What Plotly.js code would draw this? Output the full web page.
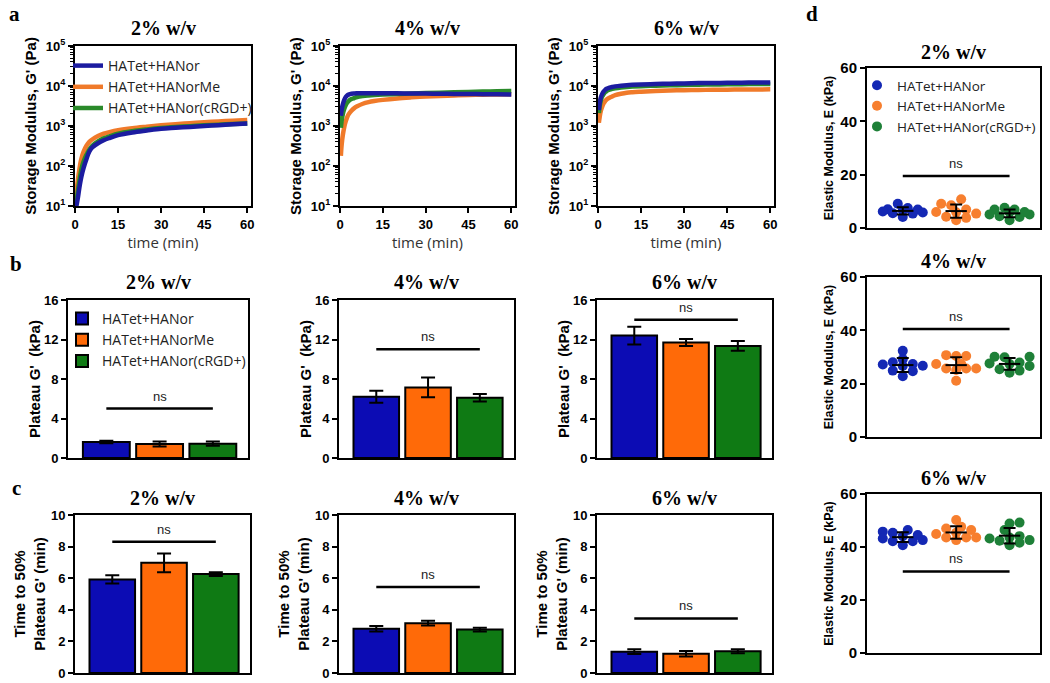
<!DOCTYPE html>
<html><head><meta charset="utf-8">
<script src="https://cdn.plot.ly/plotly-3.0.1.min.js"></script>
<style>html,body{margin:0;padding:0;background:#fff}#chart{width:1050px;height:683px}</style>
</head><body><div id="chart"></div>
<script>
// ---------- DATA ----------
const concLabels = ['2% w/v', '4% w/v', '6% w/v'];
const groups = ['HATet+HANor', 'HATet+HANorMe', 'HATet+HANor(cRGD+)'];

// (a) storage modulus G' (Pa) vs time (min)
const timeMin = [0.3, 0.6, 1, 1.5, 2, 2.5, 3, 4, 5, 6, 8, 10, 12, 15, 20, 25, 30, 35, 40, 45, 50, 55, 60];
const g2Nor   = [9, 11, 16, 28, 45, 66, 90, 150, 230, 290, 370, 440, 500, 590, 690, 770, 850, 900, 950, 1000, 1050, 1100, 1150];
const g2NorMe = [14, 25, 45, 80, 130, 180, 230, 320, 400, 460, 560, 640, 700, 780, 880, 960, 1040, 1110, 1180, 1240, 1300, 1360, 1420];
const g2RGD   = [10, 14, 24, 42, 68, 100, 130, 190, 260, 320, 410, 490, 550, 640, 740, 820, 890, 940, 990, 1040, 1080, 1120, 1160];
const g4Nor   = [1800, 2600, 3500, 4500, 5300, 5800, 6100, 6400, 6500, 6550, 6600, 6600, 6600, 6600, 6550, 6500, 6450, 6400, 6350, 6300, 6250, 6200, 6150];
const g4NorMe = [180, 350, 600, 950, 1300, 1650, 1950, 2400, 2800, 3100, 3600, 3950, 4200, 4500, 4900, 5200, 5450, 5650, 5800, 5950, 6050, 6150, 6250];
const g4RGD   = [900, 1400, 2000, 2700, 3300, 3800, 4200, 4700, 5000, 5300, 5600, 5800, 5950, 6100, 6300, 6500, 6650, 6800, 6950, 7100, 7250, 7400, 7500];
const g6Nor   = [2500, 3800, 5200, 6400, 7300, 8000, 8500, 9100, 9500, 9800, 10200, 10500, 10700, 10900, 11200, 11400, 11600, 11800, 11900, 12000, 12100, 12200, 12300];
const g6NorMe = [1200, 1700, 2400, 3100, 3700, 4200, 4600, 5100, 5500, 5900, 6400, 6800, 7000, 7200, 7500, 7700, 7850, 7950, 8050, 8100, 8150, 8200, 8250];
const g6RGD   = [2100, 3200, 4400, 5500, 6300, 7000, 7500, 8100, 8500, 8800, 9200, 9500, 9700, 9900, 10200, 10400, 10600, 10750, 10900, 11000, 11100, 11200, 11300];
const logTickVals = [10, 100, 1000, 10000, 100000];
const logTickText = ['10<sup>1</sup>', '10<sup>2</sup>', '10<sup>3</sup>', '10<sup>4</sup>', '10<sup>5</sup>'];

// (b) plateau G' (kPa): mean, SD
const plateau2Mean = [1.62, 1.42, 1.45], plateau2SD = [0.12, 0.25, 0.22];
const plateau4Mean = [6.2, 7.15, 6.1],   plateau4SD = [0.6, 1.0, 0.38];
const plateau6Mean = [12.4, 11.7, 11.35], plateau6SD = [0.9, 0.35, 0.5];
const plateauNs = [5, 11, 14];

// (c) time to 50% plateau G' (min): mean, SD
const t50_2Mean = [5.92, 6.97, 6.26], t50_2SD = [0.26, 0.6, 0.12];
const t50_4Mean = [2.8, 3.15, 2.75],  t50_4SD = [0.17, 0.15, 0.12];
const t50_6Mean = [1.35, 1.22, 1.38], t50_6SD = [0.15, 0.17, 0.13];
const t50Ns = [8.3, 5.45, 3.45];

// (d) elastic modulus E (kPa), individual measurements
const e2Nor   = [9.1, 5.4, 6.9, 6.6, 7.0, 4.1, 7.5, 5.5, 5.8, 6.2];
const e2NorMe = [10.8, 8.5, 6.9, 3.8, 5.4, 9.1, 5.9, 2.9, 4.2, 6.0];
const e2RGD   = [6.9, 5.1, 4.1, 6.9, 2.9, 5.9, 5.1, 7.6, 4.4, 6.0];
const e4Nor   = [32.3, 26.6, 28.0, 22.8, 27.4, 24.7, 26.7, 29.2, 24.9, 27.2];
const e4NorMe = [30.7, 27.4, 30.4, 25.1, 25.7, 30.4, 25.7, 25.7, 21.1, 27.4];
const e4RGD   = [27.6, 30.1, 24.1, 30.1, 26.6, 25.4, 29.9, 27.4, 24.9, 27.9];
const e6Nor   = [45.4, 44.1, 42.2, 46.4, 42.6, 45.8, 40.7, 43.2, 42.2, 44.5];
const e6NorMe = [50.2, 43.6, 46.4, 45.4, 43.6, 47.6, 42.6, 47.0, 43.6, 44.9];
const e6RGD   = [41.6, 46.4, 48.9, 49.2, 43.2, 43.6, 42.4, 44.1, 40.7, 42.6];
const elasticNs = [19.5, 40.5, 30.8];

// ---------- STYLE ----------
const W = 1050, H = 683;
const lineColors = ['#1c1ca0', '#f07a2a', '#2a8a2a'];
const barColors  = ['#0c0cb4', '#ff6a08', '#0f7a14'];
const dotColors  = ['#1428b4', '#f77f2f', '#1e8038'];
const SANS = 'Liberation Sans, Arial, sans-serif';
const SERIF = 'Liberation Serif, Times New Roman, serif';
const LEG = 'Open Sans, Noto Sans, sans-serif';

const dx = (a, b) => [a / W, b / W];
const dy = (t, b) => [1 - b / H, 1 - t / H];
const px = x => x / W, py = y => 1 - y / H;

// minor ticks for log axes (2..9 per decade)
const minorLogTicks = [];
for (let d = 1; d < 5; d++) for (let k = 2; k < 10; k++) minorLogTicks.push(k * Math.pow(10, d));

function baseAxis(extra) {
  return Object.assign({
    showline: true, linecolor: 'black', linewidth: 2, mirror: true,
    ticks: 'outside', ticklen: 5, tickwidth: 2, tickcolor: 'black',
    showgrid: false, zeroline: false, automargin: false,
    tickfont: { family: SANS, size: 13, color: 'black', weight: 'bold' }
  }, extra);
}

const traces = [];
const layout = {
  width: W, height: H, margin: { l: 0, r: 0, t: 0, b: 0, autoexpand: false },
  paper_bgcolor: 'white', plot_bgcolor: 'white',
  font: { family: SANS, color: 'black' },
  barmode: 'overlay', showlegend: true,
  annotations: [], shapes: []
};

// ---------- (a) ----------
const aBoxes = [[75, 251], [340, 515], [598, 774]];
const aData = [[g2Nor, g2NorMe, g2RGD], [g4Nor, g4NorMe, g4RGD], [g6Nor, g6NorMe, g6RGD]];
aBoxes.forEach((bx, p) => {
  const n = p + 1, xs = n === 1 ? '' : n, xa = 'x' + xs, ya = 'y' + xs;
  layout['xaxis' + xs] = baseAxis({
    domain: dx(bx[0], bx[1]), anchor: ya, range: [0, 61.3], tickvals: [0, 15, 30, 45, 60],
    title: { text: 'time (min)', font: { family: LEG, size: 15, color: '#333' }, standoff: 1 }
  });
  layout['yaxis' + xs] = baseAxis({
    domain: dy(46, 206), anchor: xa, type: 'log', range: [1, 5],
    tickvals: logTickVals, ticktext: logTickText,
    minor: { tickmode: 'array', tickvals: minorLogTicks, ticks: 'outside', ticklen: 3, tickwidth: 1, tickcolor: 'black', showgrid: false },
    title: { text: "Storage Modulus, G' (Pa)", font: { family: SANS, size: 15, weight: 'bold' }, standoff: 6 }
  });
  // draw order: orange, green, blue on top
  [1, 2, 0].forEach(g => {
    traces.push({
      type: 'scatter', mode: 'lines', x: timeMin, y: aData[p][g], xaxis: xa, yaxis: ya,
      name: groups[g], legend: 'legend', legendrank: g + 1, showlegend: p === 0,
      line: { color: lineColors[g], width: 4.5, shape: 'spline' }
    });
  });
  layout.annotations.push({ xref: 'paper', yref: 'paper', x: px((bx[0] + bx[1]) / 2), y: py(28), text: concLabels[p],
    showarrow: false, font: { family: SERIF, size: 20, weight: 'bold' }, xanchor: 'center', yanchor: 'middle' });
});

// ---------- bar helper (b,c) ----------
function barPanel(n, box, yTop, yBot, means, sds, range, dtick, ytitle, standoff, nsLevel, legendName, title, titleY) {
  const xs = String(n), xa = 'x' + xs, ya = 'y' + xs;
  layout['xaxis' + xs] = baseAxis({ domain: dx(box[0], box[1]), anchor: ya, type: 'category',
    range: [-0.72, 2.66], showticklabels: false, ticks: '' });
  layout['yaxis' + xs] = baseAxis({ domain: dy(yTop, yBot), anchor: xa, range: range, dtick: dtick,
    title: { text: ytitle, font: { family: SANS, size: 15, weight: 'bold' }, standoff: standoff } });
  groups.forEach((g, i) => {
    traces.push({ type: 'bar', x: [g], y: [means[i]], xaxis: xa, yaxis: ya, name: g, width: 0.88,
      legend: legendName || 'legend2', showlegend: !!legendName, legendrank: i + 1,
      marker: { color: barColors[i], line: { color: 'black', width: 2 } },
      error_y: { type: 'data', array: [sds[i]], color: 'black', thickness: 2, width: 7 } });
  });
  traces.push({ type: 'scatter', mode: 'lines', x: [groups[0], groups[2]], y: [nsLevel, nsLevel],
    xaxis: xa, yaxis: ya, showlegend: false, hoverinfo: 'skip', line: { color: 'black', width: 2.5 } });
  layout.annotations.push({ xref: xa, yref: ya, x: groups[1], y: nsLevel, text: 'ns', showarrow: false,
    yanchor: 'bottom', yshift: 3, font: { family: SANS, size: 13, color: '#222' } });
  layout.annotations.push({ xref: 'paper', yref: 'paper', x: px((box[0] + box[1]) / 2), y: py(titleY), text: title,
    showarrow: false, font: { family: SERIF, size: 20, weight: 'bold' }, xanchor: 'center', yanchor: 'middle' });
}

const bBoxes = [[68, 248], [339, 514], [597, 772]];
const bTitle = "Plateau G'  (kPa)";
barPanel(4, bBoxes[0], 300, 458, plateau2Mean, plateau2SD, [0, 16], 4, bTitle, 0, plateauNs[0], 'legend2', concLabels[0], 282);
barPanel(5, bBoxes[1], 300, 458, plateau4Mean, plateau4SD, [0, 16], 4, bTitle, 0, plateauNs[1], null, concLabels[1], 282);
barPanel(6, bBoxes[2], 300, 458, plateau6Mean, plateau6SD, [0, 16], 4, bTitle, 0, plateauNs[2], null, concLabels[2], 282);

const cBoxes = [[75, 250], [339, 514], [597, 772]];
const cTitle = "Time to 50%<br>Plateau G' (min)";
barPanel(7, cBoxes[0], 515, 673, t50_2Mean, t50_2SD, [0, 10], 2, cTitle, 2, t50Ns[0], null, concLabels[0], 498);
barPanel(8, cBoxes[1], 515, 673, t50_4Mean, t50_4SD, [0, 10], 2, cTitle, 2, t50Ns[1], null, concLabels[1], 498);
barPanel(9, cBoxes[2], 515, 673, t50_6Mean, t50_6SD, [0, 10], 2, cTitle, 2, t50Ns[2], null, concLabels[2], 498);

// ---------- (d) ----------
// simple bounded beeswarm: offsets limited to +-20 px around the group centre
function swarm(values, center, pxPerX, pxPerY) {
  const cands = [0, 5, -5, 10, -10, 15, -15, 20, -20];
  const order = values.map((v, i) => i).sort((a, b) => values[a] - values[b]);
  const placed = [], res = new Array(values.length);
  for (const i of order) {
    const yy = values[i] * pxPerY;
    let best = 0, bestD = -1;
    for (const c of cands) {
      const dmin = placed.length ? Math.min(...placed.map(p => Math.hypot(p.x - c, p.y - yy))) : 99;
      if (dmin >= 8) { best = c; bestD = dmin; break; }
      if (dmin > bestD) { bestD = dmin; best = c; }
    }
    placed.push({ x: best, y: yy });
    res[i] = center + best / pxPerX;
  }
  return res;
}
const dBoxes = [[68, 228], [277, 437], [494, 653]];
const dData = [[e2Nor, e2NorMe, e2RGD], [e4Nor, e4NorMe, e4RGD], [e6Nor, e6NorMe, e6RGD]];
dBoxes.forEach((yb, p) => {
  const xs = String(10 + p), xa = 'x' + xs, ya = 'y' + xs;
  const xr = [-0.67, 2.57];
  layout['xaxis' + xs] = baseAxis({ domain: dx(867, 1040), anchor: ya, range: xr, showticklabels: false, ticks: '' });
  layout['yaxis' + xs] = baseAxis({ domain: dy(yb[0], yb[1]), anchor: xa, range: [0, 60], dtick: 20,
    tickfont: { family: SANS, size: 15, color: 'black', weight: 'bold' },
    title: { text: 'Elastic Modulus, E (kPa)', font: { family: SANS, size: 12.5, weight: 'bold' }, standoff: 4 } });
  const pxPerX = 173 / (xr[1] - xr[0]), pxPerY = (yb[1] - yb[0]) / 60;
  dData[p].forEach((vals, g) => {
    const xsw = swarm(vals, g, pxPerX, pxPerY);
    traces.push({ type: 'scatter', mode: 'markers', x: xsw, y: vals, xaxis: xa, yaxis: ya, name: groups[g],
      legend: 'legend3', legendrank: g + 1, showlegend: p === 0,
      marker: { color: dotColors[g], size: 10 } });
    const mean = vals.reduce((a, b) => a + b, 0) / vals.length;
    const sd = Math.sqrt(vals.reduce((a, b) => a + (b - mean) ** 2, 0) / (vals.length - 1));
    traces.push({ type: 'scatter', mode: 'lines', x: [g - 0.2, g + 0.2], y: [mean, mean], xaxis: xa, yaxis: ya,
      showlegend: false, hoverinfo: 'skip', line: { color: 'black', width: 2 } });
    traces.push({ type: 'scatter', mode: 'markers', x: [g], y: [mean], xaxis: xa, yaxis: ya, showlegend: false,
      marker: { size: 1, color: 'rgba(0,0,0,0)' },
      error_y: { type: 'data', array: [sd], color: 'black', thickness: 2, width: 6 } });
  });
  traces.push({ type: 'scatter', mode: 'lines', x: [0, 2], y: [elasticNs[p], elasticNs[p]], xaxis: xa, yaxis: ya,
    showlegend: false, hoverinfo: 'skip', line: { color: 'black', width: 2.5 } });
  layout.annotations.push({ xref: xa, yref: ya, x: 1, y: elasticNs[p], text: 'ns', showarrow: false,
    yanchor: 'bottom', yshift: 3, font: { family: SANS, size: 13, color: '#222' } });
  layout.annotations.push({ xref: 'paper', yref: 'paper', x: px(953), y: py(yb[0] - 16), text: concLabels[p],
    showarrow: false, font: { family: SERIF, size: 20, weight: 'bold' }, xanchor: 'center', yanchor: 'middle' });
});

// panel letters
[['a', 14, 14], ['b', 16, 264], ['c', 16, 488], ['d', 812, 14]].forEach(l => {
  layout.annotations.push({ xref: 'paper', yref: 'paper', x: px(l[1]), y: py(l[2]), text: l[0], showarrow: false,
    font: { family: SERIF, size: 21, weight: 'bold' }, xanchor: 'center', yanchor: 'middle' });
});

// legends
const legBase = { bgcolor: 'rgba(0,0,0,0)', borderwidth: 0, font: { family: LEG, size: 14, color: '#222' },
  xanchor: 'left', yanchor: 'top', tracegroupgap: 0, itemwidth: 30, traceorder: 'normal' };
layout.legend = Object.assign({}, legBase, { x: px(68), y: py(50) });
layout.legend2 = Object.assign({}, legBase, { x: px(62), y: py(303) });
layout.legend3 = Object.assign({}, legBase, { x: px(857), y: py(70), font: { family: LEG, size: 13.5, color: '#222' } });

Plotly.newPlot('chart', traces, layout, { staticPlot: true, displayModeBar: false });
</script></body></html>
